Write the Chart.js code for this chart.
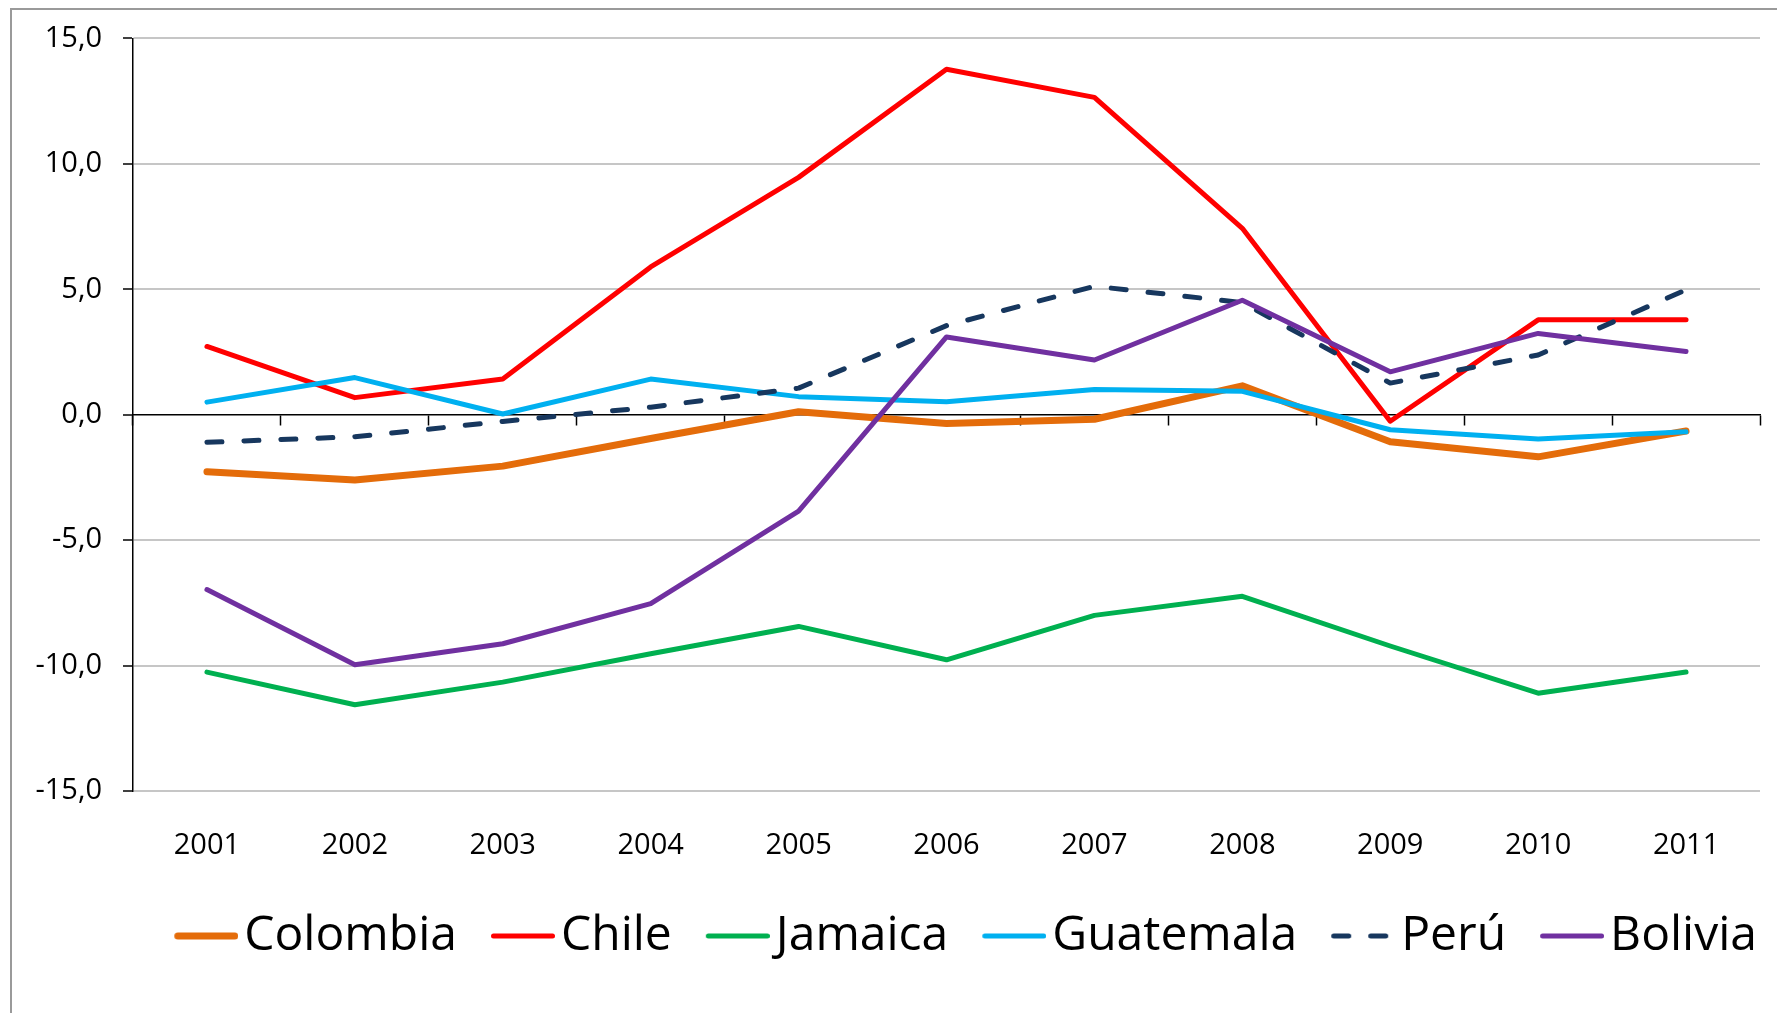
<!DOCTYPE html>
<html>
<head>
<meta charset="utf-8">
<script src="https://cdn.jsdelivr.net/npm/chart.js@4/dist/chart.umd.min.js"></script>
<style>
    html, body { margin: 0; padding: 0; background: #ffffff; }
    canvas { display: block; }
</style>
</head>
<body>
<canvas id="chart" width="1777" height="1013"></canvas>
<script>
// Categories
const YEARS = ['2001', '2002', '2003', '2004', '2005', '2006', '2007', '2008', '2009', '2010', '2011'];

// Series values
const COLOMBIA = [-2.27, -2.60, -2.05, -0.95, 0.12, -0.35, -0.18, 1.15, -1.08, -1.68, -0.65];
const CHILE = [2.72, 0.68, 1.42, 5.89, 9.46, 13.77, 12.65, 7.43, -0.26, 3.78, 3.78];
const JAMAICA = [-10.26, -11.56, -10.66, -9.53, -8.44, -9.77, -8.00, -7.24, -9.22, -11.10, -10.26];
const GUATEMALA = [0.50, 1.48, 0.03, 1.42, 0.72, 0.52, 1.00, 0.93, -0.60, -0.97, -0.68];
const PERU = [-1.10, -0.88, -0.27, 0.30, 1.06, 3.55, 5.12, 4.47, 1.26, 2.38, 4.98];
const BOLIVIA = [-6.97, -9.97, -9.13, -7.53, -3.84, 3.10, 2.18, 4.56, 1.71, 3.24, 2.52];

// Y axis range / tick step
const Y_MIN = -15;
const Y_MAX = 15;
const Y_STEP = 5;

const FONT = "'Open Sans', 'Liberation Sans', sans-serif";
const TICK_FONT_SIZE = 29;
const LEGEND_FONT_SIZE = 48;

// Legend geometry: line sample, gap to text, space to next entry
const LEGEND_LINE = 64;
const LEGEND_GAP = 6;
const LEGEND_SEP = 34;
const LEGEND_PAD = 3;

/**
 * Series styling (Excel-like palette)
 */
const SERIES = [
    { label: 'Colombia', data: COLOMBIA, color: '#E46C0A', width: 7, dash: [] },
    { label: 'Chile', data: CHILE, color: '#FF0000', width: 5, dash: [] },
    { label: 'Jamaica', data: JAMAICA, color: '#00B050', width: 5, dash: [] },
    { label: 'Guatemala', data: GUATEMALA, color: '#00B0F0', width: 5, dash: [] },
    { label: 'Perú', data: PERU, color: '#17375E', width: 5, dash: [15, 22] },
    { label: 'Bolivia', data: BOLIVIA, color: '#7030A0', width: 5, dash: [] },
];

/**
 * Legend sample drawn as an image, so the line can sit close to its text
 */
const half = LEGEND_FONT_SIZE / 2;
const lineStart = LEGEND_SEP - LEGEND_PAD;
const pointWidth = lineStart + LEGEND_GAP + LEGEND_LINE - half;
const center = pointWidth / 2;
const halfImg = Math.max(center - lineStart, lineStart + LEGEND_LINE - center);

function legendSample(s) {
    const c = document.createElement('canvas');
    c.width = Math.ceil(halfImg * 2);
    c.height = 16;
    const ctx = c.getContext('2d');
    const x0 = lineStart - (center - halfImg);
    ctx.strokeStyle = s.color;
    ctx.lineWidth = s.width;
    ctx.lineCap = 'round';
    ctx.setLineDash(s.dash);
    ctx.beginPath();
    ctx.moveTo(x0 + s.width / 2, 8);
    ctx.lineTo(x0 + LEGEND_LINE - s.width / 2, 8);
    ctx.stroke();
    return c;
}

const LEGEND_SAMPLES = SERIES.map(legendSample);

/**
 * White background and the outer chart frame
 */
const frame = {
    id: 'frame',
    beforeDraw(chart) {
        const ctx = chart.ctx;
        ctx.save();
        ctx.fillStyle = '#ffffff';
        ctx.fillRect(0, 0, chart.width, chart.height);
        ctx.strokeStyle = '#9a9a9a';
        ctx.lineWidth = 2;
        ctx.strokeRect(11, 9, chart.width + 20, chart.height + 20);
        ctx.restore();
    }
};

new Chart(document.getElementById('chart'), {
    type: 'line',
    data: {
        labels: YEARS,
        datasets: SERIES.map((s, i) => ({
            label: s.label,
            data: s.data,
            borderColor: s.color,
            backgroundColor: s.color,
            borderWidth: s.width,
            borderDash: s.dash,
            borderCapStyle: 'round',
            borderJoinStyle: 'round',
            pointRadius: 0,
            tension: 0,
            fill: false,
            // later series on top, as in the original
            order: SERIES.length - i,
        }))
    },
    options: {
        responsive: false,
        animation: false,
        devicePixelRatio: 1,
        layout: {
            padding: { top: 38, right: 17, bottom: 43, left: 0 }
        },
        plugins: {
            tooltip: { enabled: false },
            legend: {
                position: 'bottom',
                align: 'end',
                labels: {
                    usePointStyle: true,
                    pointStyleWidth: pointWidth,
                    padding: LEGEND_PAD,
                    color: '#000000',
                    font: { family: FONT, size: LEGEND_FONT_SIZE },
                    sort: (a, b) => a.datasetIndex - b.datasetIndex,
                    generateLabels(chart) {
                        const items = Chart.defaults.plugins.legend.labels.generateLabels(chart);
                        items.forEach(item => {
                            item.pointStyle = LEGEND_SAMPLES[item.datasetIndex];
                        });
                        return items;
                    }
                }
            }
        },
        scales: {
            x: {
                type: 'category',
                position: 'bottom',
                offset: true,
                grid: { display: false, drawTicks: false },
                border: { display: false },
                ticks: {
                    padding: 37,
                    color: '#000000',
                    font: { family: FONT, size: TICK_FONT_SIZE },
                    maxRotation: 0,
                },
                afterFit(scale) { scale.height = 118; }
            },
            // zero line with its category tick marks
            x2: {
                type: 'category',
                axis: 'x',
                position: { y: 0 },
                offset: true,
                grid: {
                    offset: true,
                    drawOnChartArea: false,
                    drawTicks: true,
                    tickLength: 10,
                    tickColor: '#000000',
                    tickWidth: 1.5,
                },
                border: { display: true, color: '#000000', width: 1.5 },
                ticks: { display: false }
            },
            y: {
                min: Y_MIN,
                max: Y_MAX,
                position: 'left',
                ticks: {
                    stepSize: Y_STEP,
                    padding: 21,
                    color: '#000000',
                    font: { family: FONT, size: TICK_FONT_SIZE },
                    callback: v => v.toFixed(1).replace('.', ',')
                },
                grid: {
                    color: ctx => (ctx.tick && ctx.tick.value === 0) ? 'rgba(0,0,0,0)' : '#c6c6c6',
                    lineWidth: 2,
                    tickLength: 10,
                    tickColor: '#000000',
                    tickWidth: 1.5,
                },
                border: { color: '#000000', width: 1.5 },
                afterFit(scale) { scale.width = 133; }
            }
        }
    },
    plugins: [frame]
});
</script>
</body>
</html>
